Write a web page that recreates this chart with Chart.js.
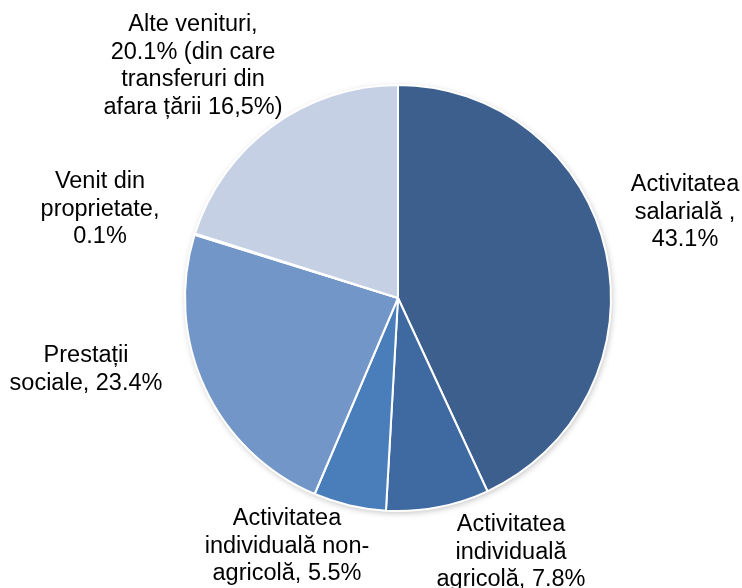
<!DOCTYPE html>
<html>
<head>
<meta charset="utf-8">
<script src="https://cdn.jsdelivr.net/npm/chart.js@4"></script>
<style>
    html, body { margin: 0; padding: 0; background: #fff; }
    #wrap { position: relative; width: 742px; height: 588px; }
</style>
</head>
<body>
<div id="wrap"><canvas id="chart" width="742" height="588"></canvas></div>
<script>
// slice data, clockwise from 12 o'clock
const categories = [
    'Activitatea salarială',
    'Activitatea individuală agricolă',
    'Activitatea individuală non-agricolă',
    'Prestații sociale',
    'Venit din proprietate',
    'Alte venituri'
];
const shares = [43.1, 7.8, 5.5, 23.4, 0.1, 20.1];
const labelLines = [
    ['Activitatea', 'salarială ,', '43.1%'],
    ['Activitatea', 'individuală', 'agricolă, 7.8%'],
    ['Activitatea', 'individuală non-', 'agricolă, 5.5%'],
    ['Prestații', 'sociale, 23.4%'],
    ['Venit din', 'proprietate,', '0.1%'],
    ['Alte venituri,', '20.1% (din care', 'transferuri din', 'afara țării 16,5%)']
];

const colors = ['#3c5f8e', '#3f6aa1', '#4a7ebb', '#7396c8', '#b4c3df', '#c5d0e4'];
// label block centre (first line), relative to the pie centre
const labelOffsets = [
    [287, -113], [113, 227], [-111, 221], [-312, 58], [-298, -116], [-205, -273]
];
const lineHeight = 27.5;

const outsideLabels = {
    id: 'outsideLabels',
    afterDatasetsDraw(chart) {
        const ctx = chart.ctx;
        const arcs = chart.getDatasetMeta(0).data;
        ctx.save();
        ctx.font = '23.5px "Liberation Sans", Arial, sans-serif';
        ctx.fillStyle = '#000';
        ctx.textAlign = 'center';
        ctx.textBaseline = 'middle';
        arcs.forEach((arc, i) => {
            const x = arc.x + labelOffsets[i][0];
            const y = arc.y + labelOffsets[i][1];
            labelLines[i].forEach((line, j) => {
                ctx.fillText(line, x, y + j * lineHeight);
            });
        });
        ctx.restore();
    }
};

const pieShadow = {
    id: 'pieShadow',
    beforeDatasetsDraw(chart) {
        const ctx = chart.ctx;
        ctx.save();
        ctx.shadowColor = 'rgba(0,0,0,0.25)';
        ctx.shadowBlur = 6;
        ctx.shadowOffsetX = 1;
        ctx.shadowOffsetY = 2;
        const arc = chart.getDatasetMeta(0).data[0];
        ctx.beginPath();
        ctx.arc(arc.x, arc.y, arc.outerRadius, 0, Math.PI * 2);
        ctx.fillStyle = '#fff';
        ctx.fill();
        ctx.restore();
    }
};

new Chart(document.getElementById('chart'), {
    type: 'pie',
    data: {
        labels: categories,
        datasets: [{
            data: shares,
            backgroundColor: colors,
            borderColor: '#fff',
            borderWidth: 2
        }]
    },
    options: {
        responsive: false,
        animation: false,
        layout: { padding: { left: 184, right: 130, top: 84, bottom: 76 } },
        plugins: {
            legend: { display: false },
            tooltip: { enabled: false }
        }
    },
    plugins: [pieShadow, outsideLabels]
});
</script>
</body>
</html>
